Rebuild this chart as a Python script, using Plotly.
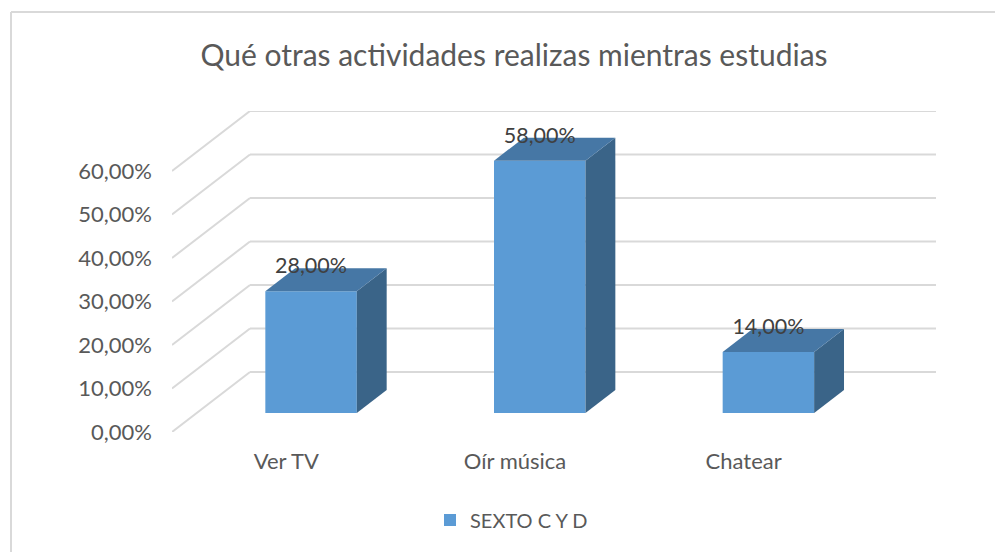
import plotly.graph_objects as go

TITLE = "Qué otras actividades realizas mientras estudias"
SERIES_NAME = "SEXTO C Y D"
categories = ["Ver TV", "Oír música", "Chatear"]
values = [28.0, 58.0, 14.0]
y_ticks = [0, 10, 20, 30, 40, 50, 60]
y_labels = ["0,00%", "10,00%", "20,00%", "30,00%", "40,00%", "50,00%", "60,00%"]

FONT = "Lato"
OFF = 8                                  # the page's own body margin
W, H = 1003 - OFF, 552 - OFF
L, R, T, B = 172 - OFF, 936 - OFF, 111 - OFF, 432 - OFF   # plot box
UX = 228.67                              # one category along the floor
UY = 4.35                                # one percentage point
WALL_DX, WALL_DY = 78 / UX, 60 / UY      # wall offset in axis units
BAR_W = 0.40
D0, D1 = 0.317, 0.70                     # depth span of each bar (0 front, 1 wall)
x_max = (R - L) / UX
y_max = (B - T) / UY


def proj(x, y, d):
    return x + d * WALL_DX, y + d * WALL_DY


xc = [i + 0.5 for i in range(len(categories))]

fig = go.Figure()

# right side faces
for c, v in zip(xc, values):
    pts = [proj(c + BAR_W / 2, 0, D0), proj(c + BAR_W / 2, 0, D1),
           proj(c + BAR_W / 2, v, D1), proj(c + BAR_W / 2, v, D0)]
    fig.add_trace(go.Scatter(x=[p[0] for p in pts], y=[p[1] for p in pts], fill="toself",
                             mode="lines", line=dict(width=0), fillcolor="#3A6488",
                             showlegend=False, hoverinfo="skip"))
# top faces
for c, v in zip(xc, values):
    pts = [proj(c - BAR_W / 2, v, D0), proj(c - BAR_W / 2, v, D1),
           proj(c + BAR_W / 2, v, D1), proj(c + BAR_W / 2, v, D0)]
    fig.add_trace(go.Scatter(x=[p[0] for p in pts], y=[p[1] for p in pts], fill="toself",
                             mode="lines", line=dict(width=0), fillcolor="#4677A5",
                             showlegend=False, hoverinfo="skip"))
# front faces
fig.add_trace(go.Bar(x=[c + D0 * WALL_DX for c in xc], y=values, base=[D0 * WALL_DY] * len(values),
                     width=BAR_W, marker=dict(color="#5B9BD5", line=dict(width=0)),
                     name=SERIES_NAME, hoverinfo="skip"))
# data labels
fig.add_trace(go.Scatter(x=[c + D0 * WALL_DX for c in xc],
                         y=[v + D1 * WALL_DY + 0.1 for v in values],
                         text=[f"{v:.2f}%".replace(".", ",") for v in values],
                         mode="text", textposition="middle center",
                         textfont=dict(family=FONT, size=21.5, color="#404040"),
                         showlegend=False, hoverinfo="skip"))

shapes = []
for t in y_ticks:
    shapes.append(dict(type="line", layer="below", xref="x", yref="y", x0=0, y0=t, x1=WALL_DX, y1=t + WALL_DY,
                       line=dict(color="#D9D9D9", width=2)))
    shapes.append(dict(type="line", layer="below", xref="x", yref="y", x0=WALL_DX, y0=t + WALL_DY, x1=x_max, y1=t + WALL_DY,
                       line=dict(color="#D9D9D9", width=2)))

# outer chart frame (top and left edges only)
pw, ph = R - L, B - T
fx = lambda p: (p - OFF - L) / pw
fy = lambda p: (B - (p - OFF)) / ph
frame = dict(color="#D9D9D9", width=2)
shapes.append(dict(type="line", xref="paper", yref="paper", x0=fx(11), y0=fy(12), x1=fx(1003), y1=fy(12), line=frame))
shapes.append(dict(type="line", xref="paper", yref="paper", x0=fx(11), y0=fy(12), x1=fx(11), y1=fy(552), line=frame))

fig.update_layout(
    width=W, height=H, autosize=False,
    margin=dict(l=L, r=W - R, t=T, b=H - B, pad=0),
    paper_bgcolor="white", plot_bgcolor="rgba(0,0,0,0)",
    font=dict(family=FONT, color="#595959"),
    title=dict(text=TITLE, x=(514 - OFF) / W, xanchor="center", y=1 - (55 - OFF) / H, yanchor="middle",
               font=dict(family=FONT, size=30, color="#595959")),
    xaxis=dict(range=[0, x_max], tickmode="array", tickvals=xc, ticktext=categories,
               showgrid=False, zeroline=False, showline=False, ticks="", ticklabelstandoff=14,
               tickfont=dict(family=FONT, size=22, color="#595959")),
    yaxis=dict(range=[0, y_max], tickmode="array", tickvals=y_ticks, ticktext=y_labels,
               showgrid=False, zeroline=False, showline=False, ticks="", ticklabelstandoff=19,
               tickfont=dict(family=FONT, size=22, color="#595959")),
    showlegend=True,
    legend=dict(orientation="h", x=fx(430), xanchor="left", y=fy(520), yanchor="middle",
                font=dict(family=FONT, size=20, color="#595959"), bgcolor="rgba(0,0,0,0)"),
    shapes=shapes,
)

fig.write_html("out.html")
